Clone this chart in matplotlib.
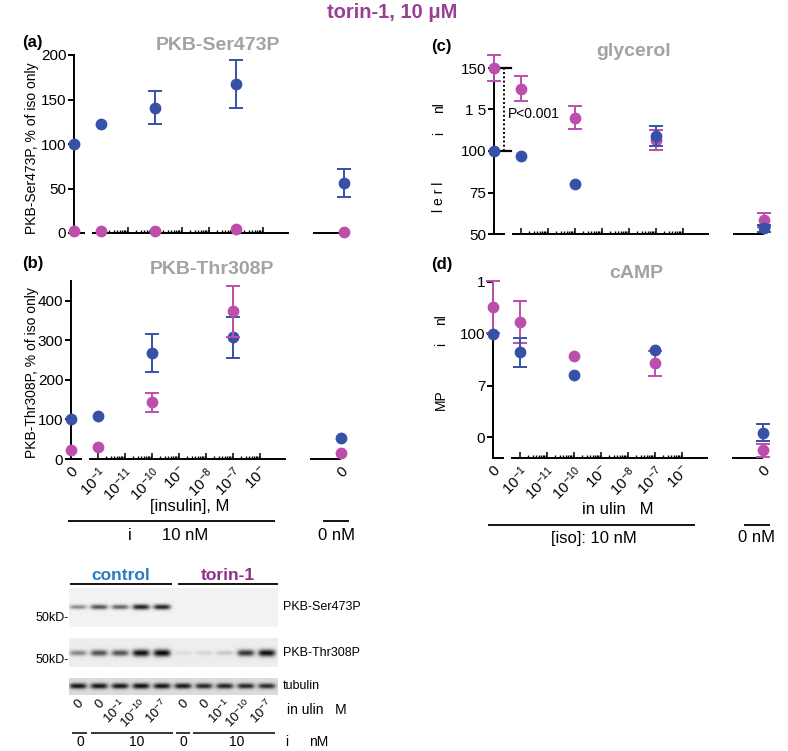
import numpy as np
import matplotlib
matplotlib.use('Agg')
import matplotlib.pyplot as plt
from matplotlib.lines import Line2D
from matplotlib.ticker import NullFormatter

plt.rcParams['font.family'] = ['Liberation Sans', 'DejaVu Sans']
plt.rcParams['mathtext.fontset'] = 'custom'
plt.rcParams['mathtext.rm'] = 'Liberation Sans'
plt.rcParams['mathtext.it'] = 'Liberation Sans:italic'
plt.rcParams['mathtext.bf'] = 'Liberation Sans:bold'

# ---------------- data ----------------
insulin_conc = [0, 1e-12, 1e-10, 1e-7]          # with 10 nM iso; 5th point = no iso, no insulin
ser_ctrl = [100, 123, 141, 167, 56]
ser_ctrl_err = [0, 0, 19, 27, 16]
ser_torin = [2, 2, 2, 4, 1.5]
ser_torin_err = [0, 0, 0, 0, 0]
thr_ctrl = [100, 109, 268, 308, 53]
thr_ctrl_err = [0, 0, 49, 52, 0]
thr_torin = [23, 30, 143, 373, 15]
thr_torin_err = [0, 0, 25, 65, 0]
gly_ctrl = [100, 97, 80, 109, 53.5]
gly_ctrl_err = [0, 0, 0, 6, 2]
gly_torin = [150, 137.5, 120, 106.5, 58.5]
gly_torin_err = [8, 7.5, 7, 6, 4]
camp_ctrl = [100, 91, 80.3, 92.3, 52.2]
camp_ctrl_err = [0, 7, 0, 0, 4]
camp_torin = [113, 105.6, 89.5, 85.8, 43.7]
camp_torin_err = [12.7, 10, 0, 6, 3]

tick_exponents = [-12, -11, -10, -9, -8, -7, -6]
tick_labels = ['0', '$10^{-1}$', '$10^{-11}$', '$10^{-10}$', '$10^{-}$',
               '$10^{-8}$', '$10^{-7}$', '$10^{-}$', '0']

blot_insulin = ['0', '0', '$10^{-1}$', '$10^{-10}$', '$10^{-7}$'] * 2
ser_band = [0.45, 0.7, 0.62, 0.92, 0.9, 0, 0, 0, 0, 0]
thr_band = [0.45, 0.68, 0.68, 0.97, 1.0, 0.07, 0.1, 0.17, 0.8, 0.97]
tub_band = [0.88, 0.88, 0.86, 0.9, 0.88, 0.86, 0.8, 0.82, 0.8, 0.78]

# ---------------- style ----------------
W, H = 788, 751
BLUE = '#3651a6'
MAG = '#bc4fab'
GREY = '#a3a3a3'
ZERO_AT = 1e-13
ISO_AT = 1e-3

fig = plt.figure(figsize=(W / 100, H / 100), dpi=100)


def ftext(x, y, s, **kw):
    return fig.text(x / W, 1 - y / H, s, **kw)


def fline(x0, x1, y, lw=1.3):
    fig.add_artist(Line2D([x0 / W, x1 / W], [1 - y / H, 1 - y / H],
                          transform=fig.transFigure, color='k', lw=lw,
                          solid_capstyle='butt'))


def panel(box, ylim, yticks, ytl, series, show_labels):
    x0, x1, yt, yb = box
    ax = fig.add_axes([x0 / W, 1 - yb / H, (x1 - x0) / W, (yb - yt) / H])
    ax.patch.set_visible(False)
    ax.set_xscale('log')
    ax.set_xlim(ZERO_AT, ISO_AT)
    ax.set_ylim(*ylim)
    for s in ['top', 'right', 'bottom']:
        ax.spines[s].set_visible(False)
    ax.spines['left'].set_linewidth(1.4)
    ax.set_yticks(yticks)
    ax.set_yticklabels(ytl)
    ax.tick_params(axis='y', direction='out', length=4, width=1.4, pad=1.5,
                   labelsize=11)
    major = [ZERO_AT] + [10.0 ** e for e in tick_exponents] + [ISO_AT]
    minor = [k * 10.0 ** e for e in range(-12, -6) for k in range(2, 10)]
    ax.set_xticks(major)
    ax.set_xticks(minor, minor=True)
    ax.xaxis.set_minor_formatter(NullFormatter())
    if show_labels:
        ax.set_xticklabels(tick_labels, rotation=45, ha='right',
                           rotation_mode='anchor')
    else:
        ax.set_xticklabels([''] * len(major))
    ax.tick_params(axis='x', which='major', direction='in', length=4,
                   width=1.1, labelsize=11, pad=4)
    ax.tick_params(axis='x', which='minor', direction='in', length=2.2,
                   width=1.0)
    y0 = ylim[0]
    for a, b in [(ZERO_AT, 10 ** -12.6), (10 ** -12.35, 10 ** -5.05),
                 (10 ** -4.15, ISO_AT)]:
        ax.plot([a, b], [y0, y0], color='k', lw=1.4, clip_on=False,
                solid_capstyle='butt', zorder=2)
    xs = np.array([ZERO_AT if c == 0 else c for c in insulin_conc] + [ISO_AT])
    z = 3
    for vals, errs, col in series:
        vals = np.array(vals, float)
        errs = np.array(errs, float)
        m = errs > 0
        if m.any():
            eb = ax.errorbar(xs[m], vals[m], yerr=errs[m], fmt='none',
                             ecolor=col, elinewidth=1.4, capsize=5,
                             capthick=1.4, zorder=z)
            for art in list(eb.lines[1]) + list(eb.lines[2]):
                art.set_clip_on(False)
        ax.plot(xs, vals, 'o', ms=8.5, color=col, mec='none', clip_on=False,
                zorder=z + 0.5)
        z += 1
    return ax


# (a)
axa = panel((74, 344, 55, 233), (0, 200), [0, 50, 100, 150, 200],
            ['0', '50', '100', '150', '200'],
            [(ser_ctrl, ser_ctrl_err, BLUE), (ser_torin, ser_torin_err, MAG)],
            False)
# (b)
axb = panel((71, 341, 281, 459), (0, 450), [0, 100, 200, 300, 400],
            ['0', '100', '200', '300', '400'],
            [(thr_ctrl, thr_ctrl_err, BLUE), (thr_torin, thr_torin_err, MAG)],
            True)
# (c)
axc = panel((494, 764, 68, 234), (50, 150), [50, 75, 100, 125, 150],
            ['50', '75', '100', '1 5', '150'],
            [(gly_torin, gly_torin_err, MAG), (gly_ctrl, gly_ctrl_err, BLUE)],
            False)
# (d)
axd = panel((493, 763, 282, 458), (40, 125), [50, 75, 100, 125],
            ['0', '7', '100', '1'],
            [(camp_torin, camp_torin_err, MAG), (camp_ctrl, camp_ctrl_err, BLUE)],
            True)

# P-value bracket in (c)
br_x1 = 10 ** -12.37
axc.plot([ZERO_AT, br_x1], [150, 150], color='k', lw=1.6, clip_on=False, zorder=2)
axc.plot([ZERO_AT, br_x1], [100, 100], color='k', lw=1.6, clip_on=False, zorder=2)
axc.plot([10 ** -12.62, 10 ** -12.62], [100, 150], color='k', lw=1.4,
         ls=(0, (1, 1.2)), clip_on=False, zorder=2)
axc.text(10 ** -12.47, 122, 'P<0.001', fontsize=10, va='center', ha='left')

# titles & panel letters
ftext(392, 13, 'torin-1, 10 \u03bcM', color='#993e95', fontsize=14.5,
      fontweight='bold', ha='center', va='center')
ftext(22, 43, '(a)', fontsize=12, fontweight='bold', va='center')
ftext(22, 264, '(b)', fontsize=12, fontweight='bold', va='center')
ftext(431, 47, '(c)', fontsize=12, fontweight='bold', va='center')
ftext(431, 265, '(d)', fontsize=12, fontweight='bold', va='center')
ftext(218, 45, 'PKB-Ser473P', color=GREY, fontsize=14, fontweight='bold',
      ha='center', va='center')
ftext(212, 270, 'PKB-Thr308P', color=GREY, fontsize=14, fontweight='bold',
      ha='center', va='center')
ftext(634, 52, 'glycerol', color=GREY, fontsize=14, fontweight='bold',
      ha='center', va='center')
ftext(636, 274, 'cAMP', color=GREY, fontsize=14, fontweight='bold',
      ha='center', va='center')

# y labels
ftext(32, 148, 'PKB-Ser473P, % of iso only', fontsize=10, rotation=90,
      ha='center', va='center')
ftext(32, 373, 'PKB-Thr308P, % of iso only', fontsize=10, rotation=90,
      ha='center', va='center')
for s, y in [('l e r l', 197), ('i', 133), ('nl', 108)]:
    ftext(439, y, s, fontsize=10, rotation=90, ha='center', va='center')
for s, y in [('MP', 400), ('i', 344), ('nl', 320)]:
    ftext(441, y, s, fontsize=10, rotation=90, ha='center', va='center')

# axis group labels under (b)
ftext(190, 507, '[insulin], M', fontsize=12, ha='center', va='center')
fline(68, 275, 521)
ftext(130, 535, 'i', fontsize=12, ha='center', va='center')
ftext(185, 535, '10 nM', fontsize=12, ha='center', va='center')
fline(323, 349, 521)
ftext(336, 535, '0 nM', fontsize=12, ha='center', va='center')

# under (d)
ftext(582, 509, 'in ulin   M', fontsize=12, ha='left', va='center')
fline(488, 695, 525)
ftext(594, 538, '[iso]: 10 nM', fontsize=12, ha='center', va='center')
fline(744, 770, 525)
ftext(757, 538, '0 nM', fontsize=12, ha='center', va='center')

# ---------------- western blot ----------------
ftext(121, 575, 'control', color='#2b7cbf', fontsize=12.5, fontweight='bold',
      ha='center', va='center')
ftext(228, 575, 'torin-1', color='#8f2f8c', fontsize=12.5, fontweight='bold',
      ha='center', va='center')
fline(70, 172, 584)
fline(178, 278, 584)

LX0, LX1 = 69, 278
LANE0, LANE_DX = 78, 21


def strip(ytop, ybot, bands, yc, sig, bg):
    ax = fig.add_axes([LX0 / W, 1 - ybot / H, (LX1 - LX0) / W, (ybot - ytop) / H])
    ax.axis('off')
    lx0 = (LX0 - LANE0) / LANE_DX
    lx1 = (LX1 - LANE0) / LANE_DX
    nx, ny = 500, int((ybot - ytop) * 3)
    xs = np.linspace(lx0, lx1, nx)
    ys = np.linspace(0, ybot - ytop, ny)
    img = np.full((ny, nx), bg)
    for i, I in enumerate(bands):
        s = sig * (0.6 + 0.4 * I)
        px = np.exp(-((xs - i) / 0.41) ** 4)
        py = np.exp(-((ys - yc) / s) ** 2)
        img -= I * 0.9 * np.outer(py, px)
    ax.imshow(np.clip(img, 0, 1), cmap='gray', vmin=0, vmax=1, aspect='auto',
              extent=[lx0, lx1, ybot - ytop, 0], interpolation='bilinear')
    ax.set_xlim(lx0, lx1)
    ax.set_ylim(ybot - ytop, 0)


strip(588, 627, ser_band, 19, 2.8, 0.95)
strip(638, 667, thr_band, 15, 3.6, 0.93)
strip(678, 695, tub_band, 8, 3.0, 0.86)

ftext(283, 607, 'PKB-Ser473P', fontsize=9, ha='left', va='center')
ftext(283, 653, 'PKB-Thr308P', fontsize=9, ha='left', va='center')
ftext(283, 686, 'tubulin', fontsize=9, ha='left', va='center')
ftext(69, 618, '50kD-', fontsize=9, ha='right', va='center')
ftext(69, 660, '50kD-', fontsize=9, ha='right', va='center')

for i, lab in enumerate(blot_insulin):
    ftext(LANE0 + i * LANE_DX + 4, 702, lab, fontsize=9.5, rotation=45,
          ha='right', va='center', rotation_mode='anchor')
ftext(287, 710, 'in ulin   M', fontsize=10, ha='left', va='center')

for a, b in [(72, 87), (91, 173), (176, 190), (193, 275)]:
    fline(a, b, 733, lw=1.1)
for x, s in [(80, '0'), (137, '10'), (183, '0'), (237, '10')]:
    ftext(x, 742, s, fontsize=10, ha='center', va='center')
ftext(287, 742, 'i', fontsize=10, ha='center', va='center')
ftext(319, 742, 'nM', fontsize=10, ha='center', va='center')

fig.savefig('out.png', dpi=100)
